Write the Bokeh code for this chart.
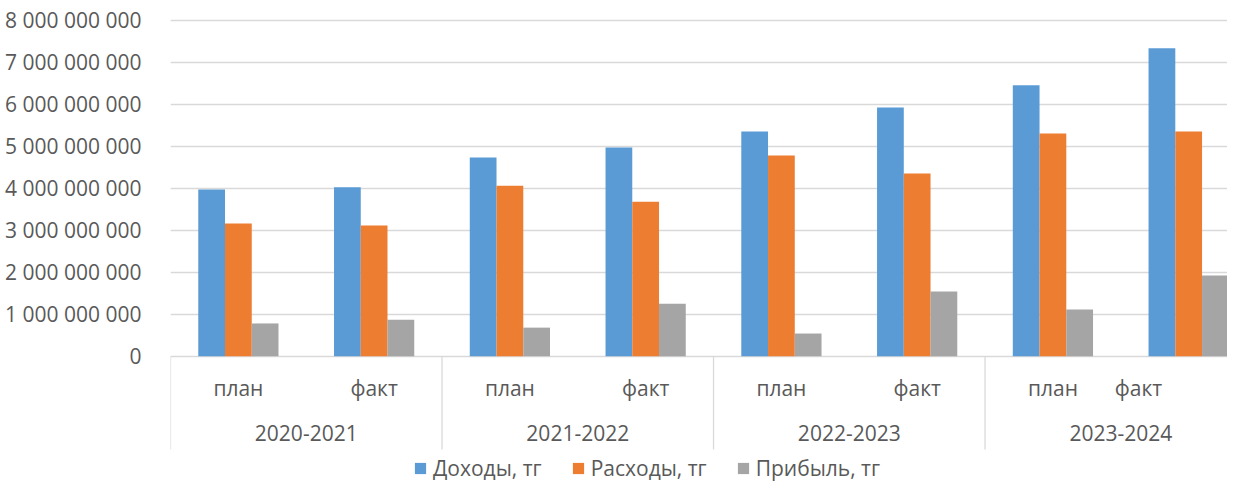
from bokeh.plotting import figure
from bokeh.models import ColumnDataSource, Range1d, FixedTicker, Legend, LegendItem
from bokeh.transform import dodge
from bokeh.core.properties import value
from bokeh.embed import file_html
from bokeh.resources import INLINE

# ---------------- data ----------------
years = ["2020-2021", "2021-2022", "2022-2023", "2023-2024"]
kinds = ["план", "факт"]
income = [3.97e9, 4.02e9, 4.73e9, 4.97e9, 5.35e9, 5.92e9, 6.45e9, 7.33e9]
expense = [3.16e9, 3.11e9, 4.06e9, 3.68e9, 4.78e9, 4.35e9, 5.30e9, 5.35e9]
profit = [0.78e9, 0.87e9, 0.68e9, 1.25e9, 0.54e9, 1.54e9, 1.11e9, 1.92e9]
series_names = ["Доходы, тг", "Расходы, тг", "Прибыль, тг"]
tick_values = [0, 1e9, 2e9, 3e9, 4e9, 5e9, 6e9, 7e9, 8e9]
tick_labels = ["0", "1 000 000 000", "2 000 000 000", "3 000 000 000",
               "4 000 000 000", "5 000 000 000", "6 000 000 000",
               "7 000 000 000", "8 000 000 000"]

# ---------------- styling ----------------
colors = ["#5B9BD5", "#ED7D31", "#A5A5A5"]
text_color = "#595959"
grid_color = "#D9D9D9"
font = "Open Sans"
fsize = "21px"

n = len(years) * len(kinds)
xc = [i + 0.5 for i in range(n)]
src = ColumnDataSource(dict(x=xc, income=income, expense=expense, profit=profit))

x_end = 7.786
p = figure(width=1227, height=483, output_backend="svg", toolbar_location=None,
           x_range=Range1d(0, x_end), y_range=Range1d(-3.031e9, 8.469e9),
           x_axis_location=None, min_border_left=170, min_border_right=0,
           min_border_top=0, min_border_bottom=0)
p.outline_line_color = None
p.xgrid.visible = False

ticker = FixedTicker(ticks=tick_values)
p.yaxis.ticker = ticker
p.ygrid.ticker = ticker
p.yaxis.major_label_overrides = {float(v): s for v, s in zip(tick_values, tick_labels)}
p.yaxis.axis_line_color = None
p.yaxis.major_tick_line_color = None
p.yaxis.minor_tick_line_color = None
p.yaxis.major_label_standoff = 23
p.yaxis.major_label_text_font = font
p.yaxis.major_label_text_font_size = fsize
p.yaxis.major_label_text_color = text_color
p.ygrid.grid_line_color = grid_color
p.ygrid.grid_line_width = 1.3

bw = 0.197
renderers = []
for k, (col, c) in enumerate(zip(["income", "expense", "profit"], colors)):
    r = p.vbar(x=dodge("x", (k - 1) * bw, range=p.x_range), top=col, bottom=0,
               width=bw, source=src, fill_color=c, line_color=None)
    renderers.append(r)

# category separators
sep_x = [2 * g for g in range(len(years))]
p.segment(x0=sep_x, y0=[0] * len(sep_x), x1=sep_x, y1=[-2.22e9] * len(sep_x),
          line_color=grid_color, line_width=1.3)

# sub-category labels
sub_text = [kinds[i % 2] for i in range(n)]
sub_x = list(xc)
sub_x[-1] = 7.13  # last group is squeezed by the right edge
p.text(x=sub_x, y=[-0.769e9] * n, text=sub_text, text_font=value(font),
       text_font_size=fsize, text_color=text_color, text_align="center",
       text_baseline="middle")

year_x = [2 * g + 1 for g in range(len(years))]
year_x[-1] = 7.0
p.text(x=year_x, y=[-1.84e9] * len(years), text=years, text_font=value(font),
       text_font_size=fsize, text_color=text_color, text_align="center",
       text_baseline="middle")

legend = Legend(items=[LegendItem(label=nm, renderers=[r]) for nm, r in zip(series_names, renderers)],
                orientation="horizontal", location=(243, 1), padding=0, margin=0,
                spacing=29, glyph_width=14, glyph_height=14, label_standoff=6,
                border_line_color=None, background_fill_alpha=0,
                label_text_font=font, label_text_font_size=fsize,
                label_text_color=text_color)
p.add_layout(legend)

open("out.html", "w").write(file_html(p, INLINE))
